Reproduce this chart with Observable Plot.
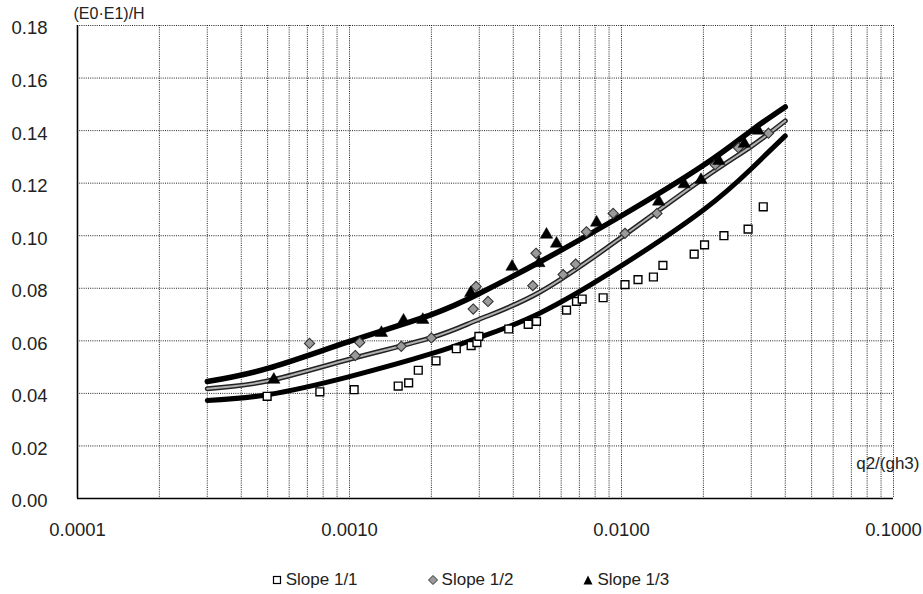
<!DOCTYPE html>
<html>
<head>
<meta charset="utf-8">
<script src="https://cdn.jsdelivr.net/npm/d3@7"></script>
<script src="https://cdn.jsdelivr.net/npm/@observablehq/plot@0.6"></script>
<style>
  body { margin: 0; background: #fff; font-family: "Liberation Sans", Arial, sans-serif; }
  #chart { width: 923px; }
  .legend { display: flex; justify-content: center; gap: 70px; padding-left: 18px; font-size: 17px; color: #222; margin-top: 14px; }
  .legend span { display: inline-flex; align-items: center; gap: 4px; }
</style>
</head>
<body>
<div id="chart"></div>
<script>
// axis ticks
const xTicks = [0.0001, 0.001, 0.01, 0.1];
const yTicks = [0, 0.02, 0.04, 0.06, 0.08, 0.10, 0.12, 0.14, 0.16, 0.18];
const decades = [0.0001, 0.001, 0.01];
const multipliers = [1, 2, 3, 4, 5, 6, 7, 8, 9];

// fitted curves
const curveX = [0.0003, 0.0005, 0.001, 0.002, 0.003, 0.005, 0.01, 0.02, 0.03, 0.04];
const fit11 = [0.0373, 0.0395, 0.0464, 0.0551, 0.0613, 0.0705, 0.0886, 0.1098, 0.1255, 0.138];
const fit12 = [0.0418, 0.0447, 0.0530, 0.0612, 0.0682, 0.0785, 0.0994, 0.1218, 0.1340, 0.1437];
const fit13 = [0.0445, 0.0495, 0.0598, 0.0700, 0.0780, 0.0900, 0.1076, 0.1268, 0.1400, 0.1490];

// Slope 1/1 (squares)
const s11X = [0.000498, 0.000778, 0.00104, 0.00151, 0.00165, 0.00179, 0.00208, 0.00247, 0.0028, 0.00294, 0.00299,
              0.00385, 0.00454, 0.00487, 0.00628, 0.00683, 0.00717, 0.00856, 0.0103, 0.0115, 0.0131, 0.0142,
              0.0185, 0.0202, 0.0238, 0.0292, 0.0332];
const s11Y = [0.0389, 0.0406, 0.0414, 0.0428, 0.0440, 0.0488, 0.0524, 0.0570, 0.0582, 0.0593, 0.0617,
              0.0645, 0.0663, 0.0674, 0.0717, 0.0750, 0.0759, 0.0764, 0.0814, 0.0833, 0.0843, 0.0887,
              0.0930, 0.0965, 0.1000, 0.1025, 0.1110];

// Slope 1/2 (diamonds)
const s12X = [0.000713, 0.00109, 0.00105, 0.00155, 0.0020, 0.00285, 0.00292, 0.00323, 0.00472, 0.00485,
              0.0061, 0.00678, 0.00743, 0.00932, 0.0103, 0.0135, 0.0221, 0.0269, 0.0347];
const s12Y = [0.0590, 0.0594, 0.0544, 0.0579, 0.0611, 0.0721, 0.0807, 0.0750, 0.0810, 0.0933,
              0.0852, 0.0892, 0.1015, 0.1085, 0.1009, 0.1085, 0.1270, 0.1335, 0.1390];

// Slope 1/3 (triangles)
const s13X = [0.000527, 0.00131, 0.00158, 0.00186, 0.00279, 0.00396, 0.00497, 0.0053, 0.00577, 0.0081,
              0.0137, 0.0170, 0.0196, 0.0228, 0.0283, 0.0318];
const s13Y = [0.0452, 0.0630, 0.0677, 0.0680, 0.0782, 0.0882, 0.0896, 0.1004, 0.0970, 0.1050,
              0.1130, 0.1196, 0.1212, 0.1285, 0.1350, 0.1400];

const gridX = decades.flatMap(d => multipliers.map(m => d * m)).concat([0.1]);
const toRows = (xs, ys) => xs.map((x, i) => ({x, y: ys[i]}));

const gridStyle = {stroke: "#222", strokeWidth: 1, strokeDasharray: "1,1.2"};
const diamondSymbol = d3.symbolDiamond2 || "diamond";

const chart = Plot.plot({
  width: 923,
  height: 556,
  marginLeft: 77,
  marginRight: 30,
  marginTop: 25,
  marginBottom: 58,
  style: {fontFamily: "Liberation Sans, Arial, sans-serif", fontSize: "18.5px", color: "#222", background: "white"},
  x: {type: "log", domain: [0.0001, 0.1], ticks: xTicks, tickFormat: d => d.toFixed(4), tickSize: 0, tickPadding: 24, label: null},
  y: {domain: [0, 0.18], ticks: yTicks, tickFormat: d => d.toFixed(2), tickSize: 0, tickPadding: 30, label: null},
  marks: [
    Plot.ruleX(gridX, gridStyle),
    Plot.ruleY(yTicks.filter(d => d > 0), gridStyle),
    Plot.ruleY([0], {stroke: "black", strokeWidth: 1.6}),
    Plot.ruleX([0.0001], {stroke: "black", strokeWidth: 1.6}),
    Plot.axisY({ticks: yTicks, tickFormat: d => d.toFixed(2), tickSize: 0, tickPadding: 30, dy: 3}),
    Plot.axisX({ticks: xTicks, tickFormat: d => d.toFixed(4), tickSize: 0, tickPadding: 24}),
    Plot.line(toRows(curveX, fit11), {x: "x", y: "y", stroke: "black", strokeWidth: 5, curve: "natural"}),
    Plot.line(toRows(curveX, fit12), {x: "x", y: "y", stroke: "#222", strokeWidth: 5, curve: "natural"}),
    Plot.line(toRows(curveX, fit12), {x: "x", y: "y", stroke: "#b0b0b0", strokeWidth: 2, curve: "natural"}),
    Plot.line(toRows(curveX, fit13), {x: "x", y: "y", stroke: "black", strokeWidth: 5.5, curve: "natural"}),
    Plot.dot(toRows(s11X, s11Y), {x: "x", y: "y", symbol: "square", r: 4.4, fill: "white", stroke: "black", strokeWidth: 1.4}),
    Plot.dot(toRows(s12X, s12Y), {x: "x", y: "y", symbol: diamondSymbol, r: 4.6, fill: "#9a9a9a", stroke: "#333", strokeWidth: 1.1}),
    Plot.dot(toRows(s13X, s13Y), {x: "x", y: "y", symbol: "triangle", r: 4.6, fill: "black", stroke: "black", strokeWidth: 0.5}),
    Plot.text(["(E0·E1)/H"], {frameAnchor: "top-left", textAnchor: "start", lineAnchor: "middle", dx: -4, dy: -12, fontSize: 16}),
    Plot.text(["q2/(gh3)"], {frameAnchor: "bottom-right", textAnchor: "end", lineAnchor: "middle", dx: 26, dy: -35, fontSize: 17})
  ]
});
document.getElementById("chart").appendChild(chart);

// legend
const legendItems = [
  {label: "Slope 1/1", svg: '<svg width="10" height="10"><rect x="1.5" y="1.5" width="7" height="7" fill="white" stroke="black" stroke-width="1.2"/></svg>'},
  {label: "Slope 1/2", svg: '<svg width="10" height="10"><path d="M5,0.5L9.5,5L5,9.5L0.5,5Z" fill="#9a9a9a" stroke="#333" stroke-width="1"/></svg>'},
  {label: "Slope 1/3", svg: '<svg width="10" height="10"><path d="M5,0.5L9.5,9.5L0.5,9.5Z" fill="black"/></svg>'}
];
const legend = document.createElement("div");
legend.className = "legend";
legend.innerHTML = legendItems.map(d => `<span>${d.svg}${d.label}</span>`).join("");
document.body.appendChild(legend);
</script>
</body>
</html>
